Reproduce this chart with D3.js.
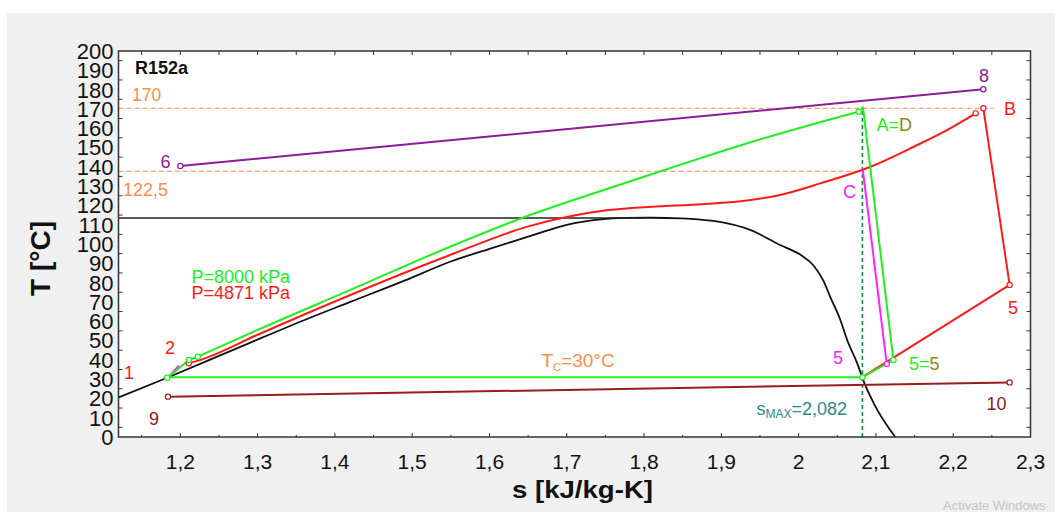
<!DOCTYPE html>
<html><head><meta charset="utf-8">
<script src="https://cdn.jsdelivr.net/npm/d3@7"></script>
<style>body{margin:0;background:#fff}svg{display:block}text{font-family:"Liberation Sans",Arial,sans-serif}</style>
</head><body><svg id="c" width="1055" height="512"></svg>
<script>
// ---- data (s [kJ/kg-K], T [°C]) ----
const yTicks = d3.range(0, 201, 10);
const xTicks = [1.2,1.3,1.4,1.5,1.6,1.7,1.8,1.9,2.0,2.1,2.2,2.3];
const xTickLabels = ["1,2","1,3","1,4","1,5","1,6","1,7","1,8","1,9","2","2,1","2,2","2,3"];
const dome = [[1.12,20.5],[1.183,30.7],[1.25,42],[1.30,50.5],[1.36,60.5],[1.42,70],[1.49,81],[1.549,90.8],[1.60,97.5],[1.65,103.8],[1.679,107.5],[1.71,110.8],[1.744,112.8],[1.775,113.5],[1.81,113.6],[1.847,113.3],[1.87,112.8],[1.90,111.3],[1.938,107.2],[1.976,99.5],[2.002,94.5],[2.019,89],[2.032,81],[2.041,72.5],[2.054,60.6],[2.063,50],[2.076,38],[2.0825,30.5],[2.097,17.6],[2.125,0]];
const critLine = [[1.12,113.5],[1.80,113.5]];
const green8000 = [[1.2226,41.6],[1.30,55.5],[1.42,76.2],[1.549,98.6],[1.649,114.5],[1.786,133],[1.873,144.5],[1.94,153],[2.0,160],[2.0777,168.5]];
const greenCycle = [[2.0777,168.5],[2.0833,170.8],[2.1226,39.9],[2.0825,31],[1.183,31],[1.183,30.7],[1.211,39.9],[1.2226,41.6]];
const red4871 = [[1.211,38.2],[1.23,40.5],[1.30,53],[1.42,73.6],[1.549,94.3],[1.649,109],[1.706,114.5],[1.749,117.3],[1.81,119.3],[1.875,120.6],[1.938,122.8],[1.976,125.4],[2.028,131.4],[2.093,140],[2.149,150.4],[2.192,159],[2.229,167.7]];
const redCycle = [[2.239,170.3],[2.273,78.8],[2.0825,31]];
const magentaExp = [[2.083,138.5],[2.114,37.8]];
const magentaPump = [[1.186,31.5],[1.198,37]];
const purpleLine = [[1.2,140.4],[2.239,180.2]];
const brownLine = [[1.184,20.9],[2.273,28.3]];
const hRef = [[170.3,2.252],[137.6,2.083]];
const sMax = 2.0825, sMaxTop = 170.8;
const greenPts = [[1.183,30.7],[1.211,39.9],[1.2226,41.6],[2.0777,168.5],[2.1226,39.9],[2.0825,31]];
const redPts = [[1.211,38.2],[2.229,167.7],[2.239,170.3],[2.273,78.8]];
const magentaPts = [[2.114,37.8]];
const purplePts = purpleLine, brownPts = brownLine;

const svg = d3.select("#c");
const x = d3.scaleLinear().domain([1.12,2.3]).range([118.5,1030.5]);
const y = d3.scaleLinear().domain([0,200]).range([437,51]);
const L = 118.5, R = 1030.5, T = 51, B = 437;

svg.append("rect").attr("x",7).attr("y",13).attr("width",1048).attr("height",499).attr("fill","#f0f0f0");
svg.append("rect").attr("x",L).attr("y",T).attr("width",R-L).attr("height",B-T).attr("fill","#fff");
svg.append("defs").append("clipPath").attr("id","pc").append("rect").attr("x",L).attr("y",T).attr("width",R-L).attr("height",B-T);
const g = svg.append("g").attr("clip-path","url(#pc)");
const line = d3.line().x(d=>x(d[0])).y(d=>y(d[1]));
const smooth = d3.line().x(d=>x(d[0])).y(d=>y(d[1])).curve(d3.curveMonotoneX);

// reference dashed lines
hRef.forEach(h=>g.append("path").attr("d",line([[1.12,h[0]],[h[1],h[0]]])).attr("stroke","#ffa070").attr("stroke-width",1.3).attr("stroke-dasharray","5,3").attr("fill","none"));
g.append("path").attr("d",line([[sMax,0],[sMax,sMaxTop]])).attr("stroke","#138a3a").attr("stroke-width",1.6).attr("stroke-dasharray","4,3").attr("fill","none");

const draw=(d,c,w,gen)=>g.append("path").attr("d",(gen||line)(d)).attr("stroke",c).attr("stroke-width",w||2).attr("fill","none").attr("stroke-linejoin","round");
draw(dome,"#111",1.8,smooth);
draw(critLine,"#222",1.6);
draw(brownLine,"#9b1c1c",2);
draw(purpleLine,"#8a1e96",2);
draw(red4871,"#ff1a1a",2,smooth);
draw(redCycle,"#ff1a1a",2);
draw(magentaExp,"#ff22ff",2);
draw(magentaPump,"#ff22ff",2);
draw(green8000,"#22ee22",2,smooth);
draw(greenCycle,"#22ee22",2);

const circ=(pts,c)=>g.selectAll(null).data(pts).enter().append("circle").attr("cx",d=>x(d[0])).attr("cy",d=>y(d[1])).attr("r",2.6).attr("fill","#fff").attr("stroke",c).attr("stroke-width",1.2);
circ(brownPts,"#9b1c1c");circ(purplePts,"#8a1e96");circ(redPts,"#ff1a1a");circ(magentaPts,"#ff22ff");circ(greenPts,"#22ee22");

// frame & ticks
svg.append("rect").attr("x",L).attr("y",T).attr("width",R-L).attr("height",B-T).attr("fill","none").attr("stroke","#333").attr("stroke-width",1.5);
const ax = svg.append("g");
d3.range(1.15,2.3,0.05).forEach(s=>{
  const major = Math.abs(Math.round(s*10)-s*10)<1e-6;
  ax.append("line").attr("x1",x(s)).attr("x2",x(s)).attr("y1",B).attr("y2",B-(major?4:2)).attr("stroke","#333");
  ax.append("line").attr("x1",x(s)).attr("x2",x(s)).attr("y1",T).attr("y2",T+4).attr("stroke","#333");
});
d3.range(5,200,10).forEach(t=>{
  ax.append("line").attr("x1",L).attr("x2",L+4).attr("y1",y(t)).attr("y2",y(t)).attr("stroke","#333");
  ax.append("line").attr("x1",R).attr("x2",R-4).attr("y1",y(t)).attr("y2",y(t)).attr("stroke","#333");
});
ax.selectAll(null).data(yTicks).enter().append("text").attr("x",113.5).attr("y",d=>y(d)).attr("dy","0.36em").attr("text-anchor","end").attr("font-size",22).attr("fill","#111").text(d=>d);
ax.selectAll(null).data(xTicks).enter().append("text").attr("x",d=>x(d)).attr("y",469).attr("text-anchor","middle").attr("font-size",21).attr("fill","#111").text((d,i)=>xTickLabels[i]);

svg.append("text").attr("x",512).attr("y",498).attr("font-size",24).attr("font-weight","bold").attr("textLength",141).attr("lengthAdjust","spacingAndGlyphs").attr("fill","#111").text("s [kJ/kg-K]");
svg.append("text").attr("transform","translate(50,258.5) rotate(-90)").attr("text-anchor","middle").attr("font-size",28).attr("font-weight","bold").attr("fill","#111").text("T [°C]");

// annotations
const lab=(tx,px,py,c,fs,opt)=>{const t=svg.append("text").attr("x",px).attr("y",py).attr("fill",c).attr("font-size",fs||18).text(tx);if(opt&&opt.bold)t.attr("font-weight","bold");if(opt&&opt.anchor)t.attr("text-anchor",opt.anchor);return t;};
lab("R152a",135,74,"#111",18,{bold:true});
lab("170",132,100.5,"#ff8c4a",17.5);
lab("122,5",123,195.5,"#ff8c4a",18);
lab("6",160.5,168,"#8a1e96",18);
lab("8",984,81.5,"#8a1e96",18,{anchor:"middle"});
lab("B",1004,115,"#ff1a1a",18);
const ad = lab("A=",876.5,130.5,"#22ee22",18); ad.append("tspan").attr("fill","#8a8a10").text("D");
lab("C",843,198,"#ff22ff",18);
lab("5",1008,314,"#ff1a1a",18);
lab("5",833,364,"#ff22ff",18);
const ff = lab("5=",909,370,"#22ee22",18); ff.append("tspan").attr("fill","#8a8a10").text("5");
lab("10",986.5,410,"#8b1a1a",18);
lab("9",149,425,"#8b1a1a",18);
lab("1",124,379,"#ff1a1a",18);
lab("2",165,354,"#ff1a1a",18);
lab("P=8000 kPa",191.5,283,"#22ee22",18);
lab("P=4871 kPa",191.5,298.5,"#ff1a1a",18);
const tc = lab("T",541.5,366.5,"#ff8c4a",19); tc.append("tspan").attr("font-size",11).attr("dy",4).text("C"); tc.append("tspan").attr("dy",-4).text("=30°C");
const sm = lab("s",756.5,415,"#2a8a8a",18); sm.append("tspan").attr("font-size",12).attr("dy",3).text("MAX"); sm.append("tspan").attr("dy",-3).text("=2,082");
lab("Activate Windows",943,510,"#c4c4c4",13);
</script></body></html>
